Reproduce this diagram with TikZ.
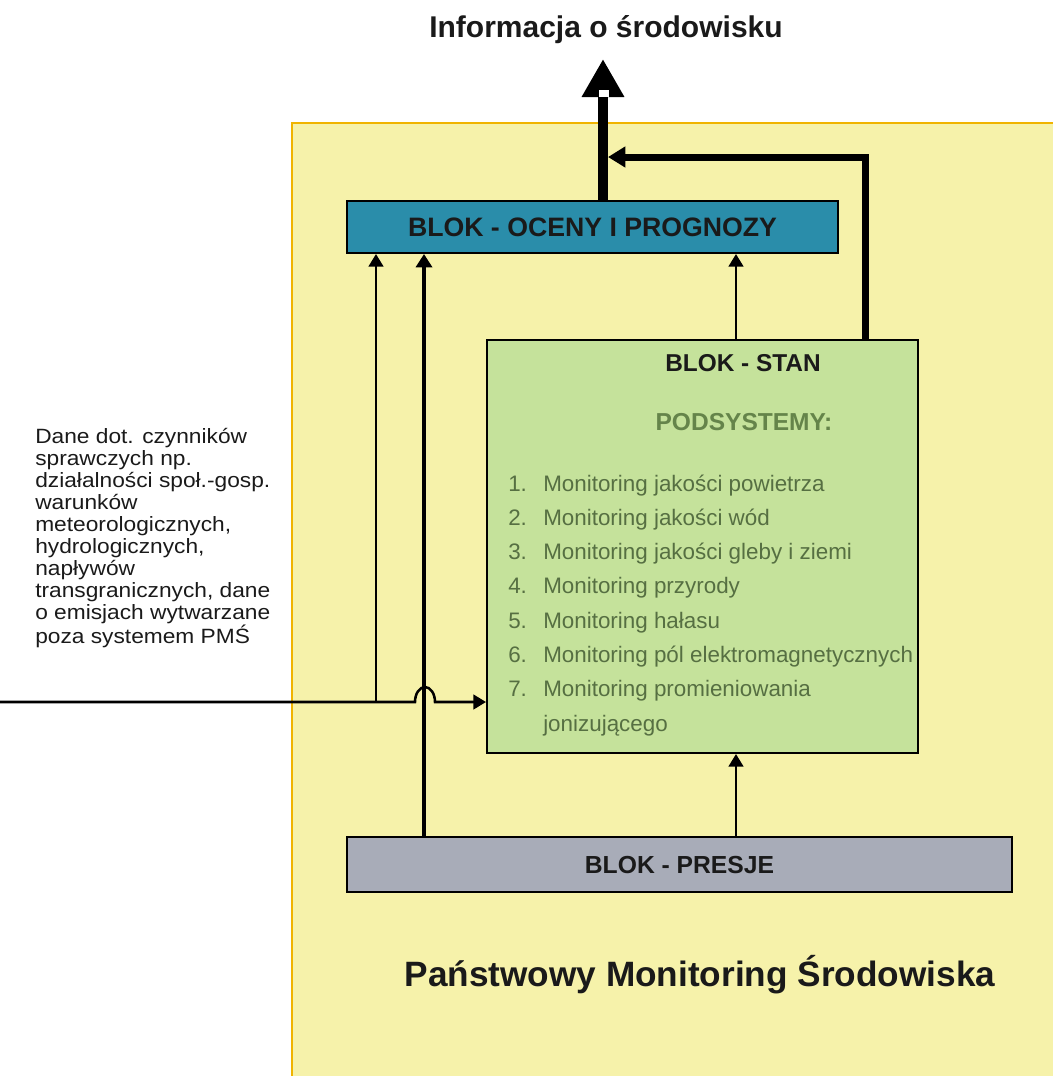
\documentclass[tikz,border=0pt]{standalone}
\usepackage{fontspec}
\setmainfont{Liberation Sans}
\newfontfamily\wideA[FakeStretch=1.1]{Liberation Sans}
\usetikzlibrary{arrows.meta}
\definecolor{bgyellow}{HTML}{F6F2AA}
\definecolor{bgborder}{HTML}{F0B400}
\definecolor{blueblock}{HTML}{2A8DAA}
\definecolor{greenblock}{HTML}{C5E29B}
\definecolor{grayblock}{HTML}{A8ACB8}
\definecolor{listgreen}{HTML}{566F42}
\definecolor{podgreen}{HTML}{65844A}
\definecolor{inktext}{HTML}{1A1A1A}
\begin{document}
\begin{tikzpicture}[x=0.75pt,y=-0.75pt,
  block/.style={draw=black,line width=1.5pt,inner sep=0pt,anchor=center},
  btext/.style={font={\bfseries\fontsize{#1}{#1}\selectfont},inner sep=0pt,text=inktext},
  listtext/.style={font={\fontsize{16.8}{20}\selectfont},inner sep=0pt,text=listgreen,anchor=base west},
  arrA/.style={line width=1.9pt,-{Triangle[width=11pt,length=9.5pt]}},
  arrB/.style={line width=3pt,-{Triangle[width=12pt,length=10pt]}},
  mainarr/.style={line width=7.5pt,-{Triangle[width=30pt,length=28.5pt]}},
  fbarr/.style={line width=5.25pt,line join=miter,-{Triangle[width=15pt,length=13pt]}}]
\useasboundingbox (0,0) rectangle (1053,1076);
% background
\fill[bgyellow] (292,123) rectangle (1060,1080);
\draw[bgborder,line width=1.5pt] (292,1080) -- (292,123) -- (1060,123);
% helper coordinates
\coordinate (in0) at (0,702);
\coordinate (hop1) at (415,702);
\coordinate (xa) at (376,0);
\coordinate (xb) at (424,0);
\coordinate (xc) at (736,0);
\coordinate (mx) at (603,0);
\coordinate (mtip) at (603,59);
\coordinate (fbcorner) at (865,157);
\coordinate (fbtip) at (608,157);
% blocks
\node[block,fill=blueblock,minimum width=368.25pt,minimum height=39pt,
      font={\bfseries\fontsize{20}{20}\selectfont},text=inktext] (oceny) at (592.5,227) {BLOK - OCENY I PROGNOZY};
\node[block,fill=greenblock,minimum width=323.25pt,minimum height=309.75pt] (stan) at (702.5,546.5) {};
\node[block,fill=grayblock,minimum width=498.75pt,minimum height=41.25pt,
      font={\bfseries\fontsize{18.5}{18.5}\selectfont},text=inktext] (presje) at (679.5,864.5) {BLOK - PRESJE};
% texts in green block
\node[btext=18.3] (stant) at (743,363) {BLOK - STAN};
\node[btext=18.4,text=podgreen] (pod) at (744,422) {PODSYSTEMY:};
\foreach \i/\t in {1/Monitoring jakości powietrza,2/Monitoring jakości wód,3/Monitoring jakości gleby i ziemi,4/Monitoring przyrody,5/Monitoring hałasu,6/Monitoring pól elektromagnetycznych,7/Monitoring promieniowania}{
  \node[listtext] (num\i) at (508,{491+34.3*(\i-1)}) {\i.};
  \node[listtext] (item\i) at (543,{491+34.3*(\i-1)}) {\t};
}
\node[listtext] (item8) at (543,{491+34.3*7}) {jonizującego};
% titles
\node[btext=22.5] (info) at (606,30) {Informacja o środowisku};
\node[btext=26.4] (pms) at (700,975) {Państwowy Monitoring Środowiska};
% left text
\node[anchor=north west,inner sep=0pt,align=left,text=inktext,
      font={\wideA\fontsize{15.5}{16.5}\selectfont}] (dane) at (35,428)
  {Dane dot. czynników\\sprawczych np.\\działalności społ.-gosp.\\warunków\\meteorologicznych,\\hydrologicznych,\\napływów\\transgranicznych, dane\\o emisjach wytwarzane\\poza systemem PMŚ};
% connectors
\draw[arrA] (xa |- in0) -- (oceny.south -| xa);
\draw[arrB] (presje.north -| xb) -- (oceny.south -| xb);
\draw[arrA] (stan.north -| xc) -- (oceny.south -| xc);
\draw[arrA] (presje.north -| xc) -- (stan.south -| xc);
\draw[arrA] (in0) -- (hop1) arc[start angle=180,end angle=360,x radius=10,y radius=15] -- (stan.west |- in0);
\draw[mainarr] (oceny.north -| mx) -- (mtip);
\fill[white] (598.5,90) rectangle (608.5,97);
\draw[fbarr] (stan.north -| fbcorner) -- (fbcorner) -- (fbtip);
\end{tikzpicture}
\end{document}
